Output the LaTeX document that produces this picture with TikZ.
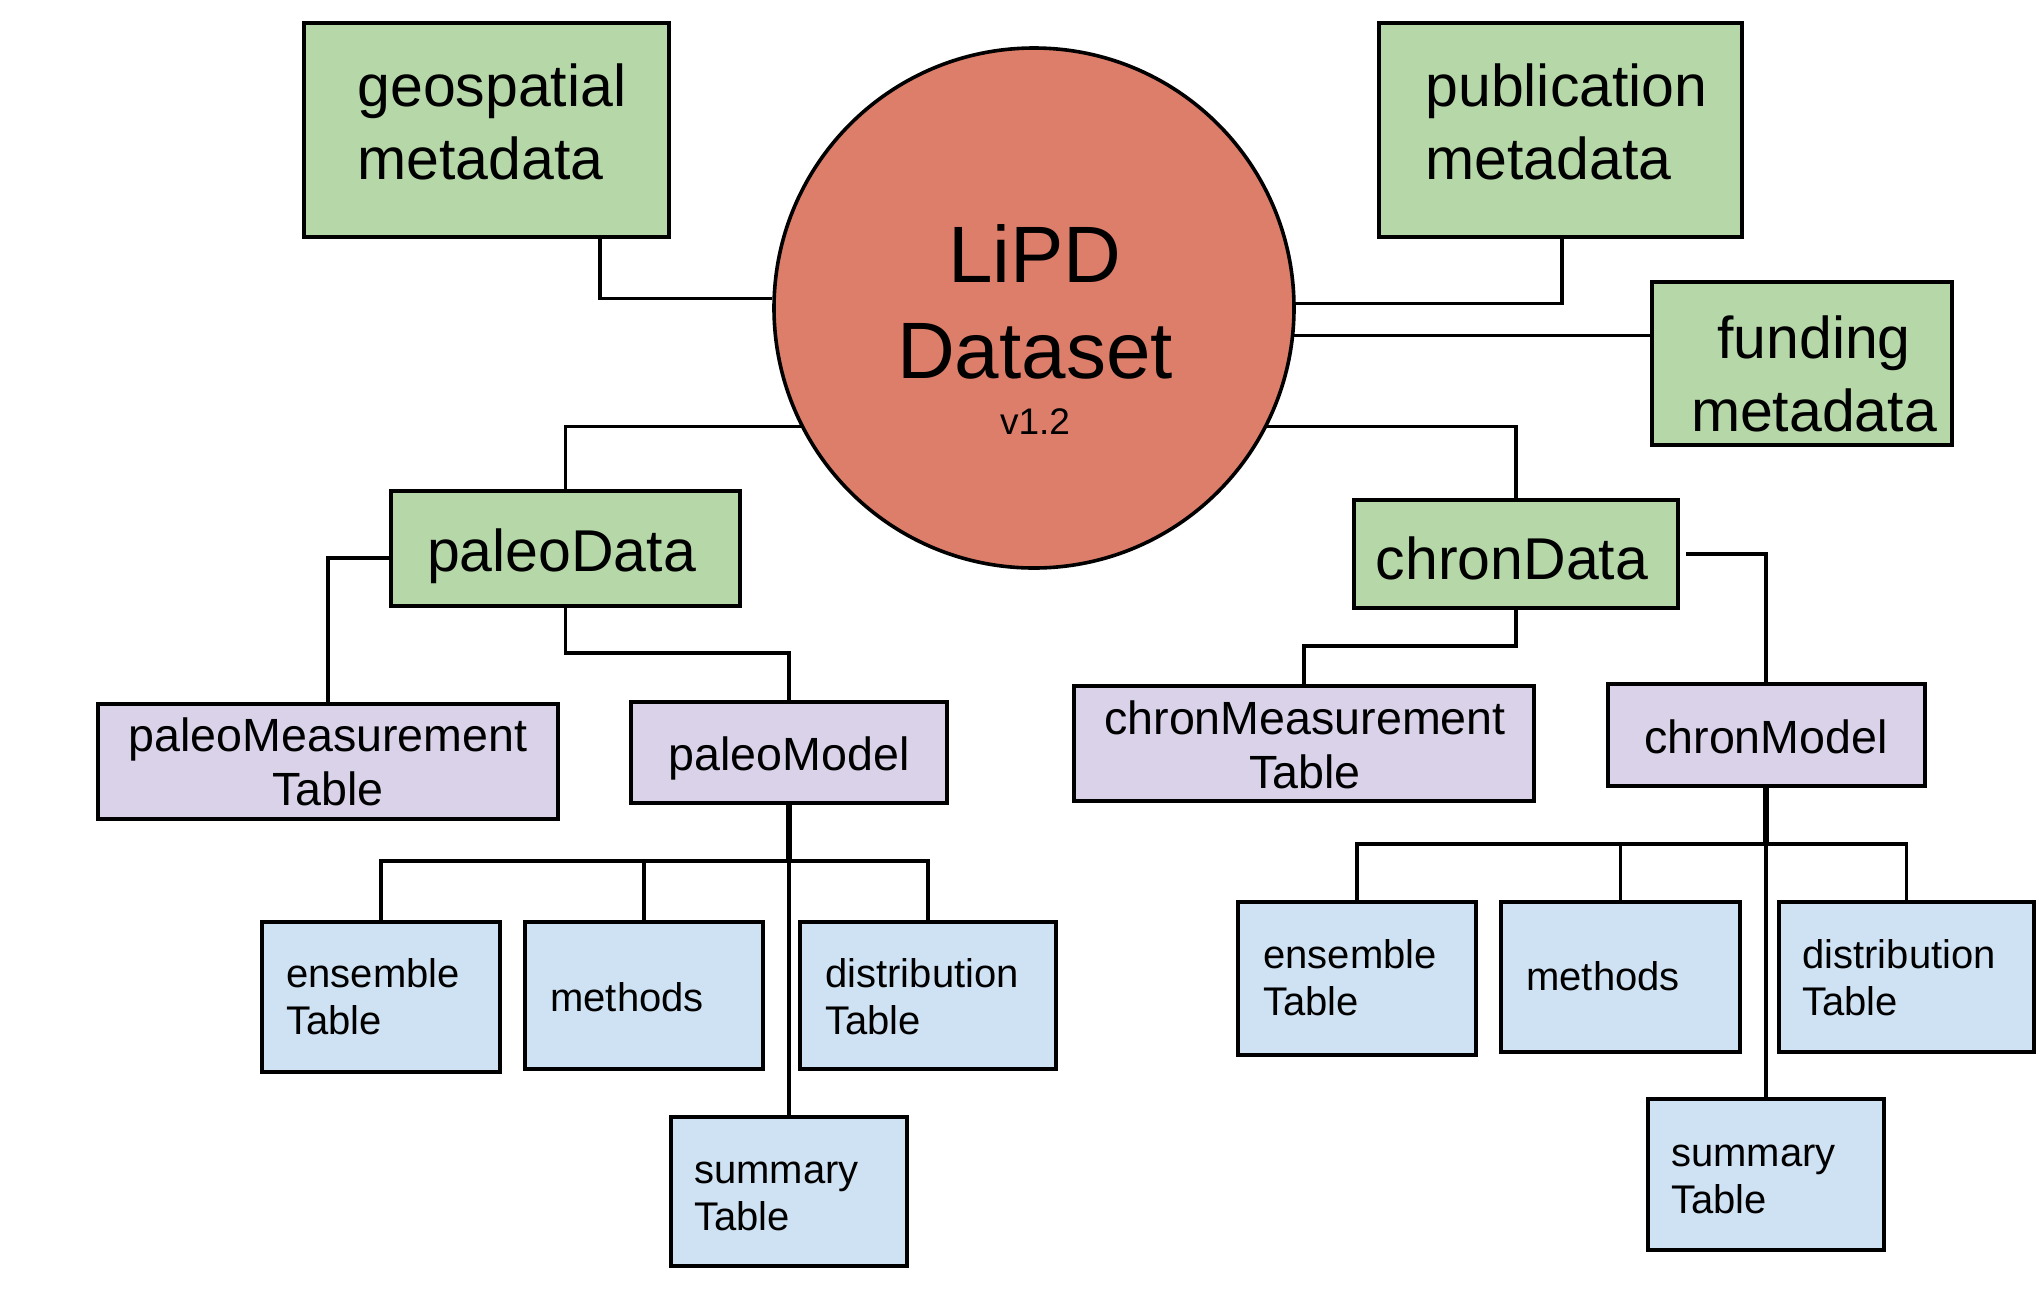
\documentclass[tikz,border=0pt]{standalone}
\usepackage{fontspec}
\setmainfont{Liberation Sans}
\definecolor{gfill}{HTML}{B6D7A8}
\definecolor{pfill}{HTML}{D9D2E9}
\definecolor{bfill}{HTML}{CFE2F3}
\definecolor{rfill}{HTML}{DD7E6B}
\begin{document}
\begin{tikzpicture}[x=0.5pt,y=-0.5pt,
  box/.style={draw=black, line width=2pt, rectangle, inner sep=0pt},
  greenbox/.style={box, fill=gfill},
  purplebox/.style={box, fill=pfill},
  bluebox/.style={box, fill=bfill},
  gtext/.style={font=\fontsize{29.5}{36.5}\selectfont, inner sep=0pt},
  ptext/.style={font=\fontsize{23.3}{27}\selectfont, inner sep=0pt},
  btext/.style={font=\fontsize{20}{23.5}\selectfont, inner sep=0pt},
  link/.style={draw=black, line width=1.6pt},
]
\useasboundingbox (0,0) rectangle (2044,1292);

% central dataset circle (multi-line labels are placed by the baseline of their last line)
\node[circle, draw=black, line width=1.8pt, fill=rfill, minimum size=260pt, inner sep=0pt] (lipd) at (1034,308) {};
\node[font=\fontsize{40}{48}\selectfont, align=center, anchor=base, inner sep=0pt] (lipd-t) at (1035,378) {LiPD\\Dataset};
\node[font=\fontsize{18.5}{22}\selectfont, anchor=base, inner sep=0pt] (lipd-v) at (1035,434) {v1.2};

% metadata boxes
\node[greenbox, minimum width=182.5pt, minimum height=107pt] (geo) at (486.5,130) {};
\node[gtext, align=left, anchor=base west] (geo-t) at (357,179) {geospatial\\metadata};
\node[greenbox, minimum width=181.5pt, minimum height=107pt] (pub) at (1560.5,130) {};
\node[gtext, align=left, anchor=base west] (pub-t) at (1425,179) {publication\\metadata};
\node[greenbox, minimum width=150pt, minimum height=81.5pt] (fund) at (1802,363.5) {};
\node[gtext, align=center, anchor=base] (fund-t) at (1814,431) {funding\\metadata};

% data groups
\node[greenbox, minimum width=174.5pt, minimum height=57.5pt] (pd) at (565.5,548.5) {};
\node[gtext, anchor=base] (pd-t) at (561.5,571) {paleoData};
\node[greenbox, minimum width=162pt, minimum height=54pt] (cd) at (1516,554) {};
\node[gtext, anchor=base] (cd-t) at (1512,579) {chronData};

% measurement and model tables
\node[purplebox, minimum width=230pt, minimum height=57.5pt] (pmeas) at (328,761.5) {};
\node[ptext, align=center, anchor=base] (pmeas-t) at (328,805) {paleoMeasurement\\Table};
\node[purplebox, minimum width=158pt, minimum height=50.5pt] (pmodel) at (789,752.5) {};
\node[ptext, anchor=base] (pmodel-t) at (789,770) {paleoModel};
\node[purplebox, minimum width=230pt, minimum height=57.5pt] (cmeas) at (1304,743.5) {};
\node[ptext, align=center, anchor=base] (cmeas-t) at (1305,788) {chronMeasurement\\Table};
\node[purplebox, minimum width=158.5pt, minimum height=51pt] (cmodel) at (1766,735) {};
\node[ptext, anchor=base] (cmodel-t) at (1766,753) {chronModel};

% paleo model parts
\node[bluebox, minimum width=119pt, minimum height=75pt] (pens) at (381,997) {};
\node[btext, align=left, anchor=base west] (pens-t) at (286,1034) {ensemble\\Table};
\node[bluebox, minimum width=119pt, minimum height=73.5pt] (pmeth) at (644,995.5) {};
\node[btext, anchor=base west] (pmeth-t) at (550,1011) {methods};
\node[bluebox, minimum width=128pt, minimum height=73.5pt] (pdist) at (928,995.5) {};
\node[btext, align=left, anchor=base west] (pdist-t) at (825,1034) {distribution\\Table};
\node[bluebox, minimum width=118pt, minimum height=74.5pt] (psum) at (789,1191.5) {};
\node[btext, align=left, anchor=base west] (psum-t) at (694,1230) {summary\\Table};

% chron model parts
\node[bluebox, minimum width=119pt, minimum height=76.5pt] (cens) at (1357,978.5) {};
\node[btext, align=left, anchor=base west] (cens-t) at (1263,1015) {ensemble\\Table};
\node[bluebox, minimum width=119.5pt, minimum height=75pt] (cmeth) at (1620.5,977) {};
\node[btext, anchor=base west] (cmeth-t) at (1526,990) {methods};
\node[bluebox, minimum width=127.5pt, minimum height=75pt] (cdist) at (1906.5,977) {};
\node[btext, align=left, anchor=base west] (cdist-t) at (1802,1015) {distribution\\Table};
\node[bluebox, minimum width=118pt, minimum height=75.5pt] (csum) at (1766,1174.5) {};
\node[btext, align=left, anchor=base west] (csum-t) at (1671,1213) {summary\\Table};

% bus junctions
\coordinate (pbus) at (789,861);
\coordinate (cbus) at (1766,844);

% connectors around the circle
\draw[link] (geo.south -| 600,0) |- (lipd.178.9);
\draw[link] (pub.south -| 1562,0) |- (lipd.1.8);
\draw[link] (lipd.-6.2) -- (lipd.-6.2 -| fund.west);
\draw[link] (lipd.207) -| (pd.north);
\draw[link] (lipd.-27) -| (cd.north);

% paleo branch
\draw[link] (pd.west |- 0,558) -| (pmeas.north);
\draw[link] (pd.south) -- (pd.south |- 0,653) -| (pmodel.north);
\draw[link] (pens.north) |- (pbus) -| (pdist.north);
\draw[link] (pmeth.north) -- (pmeth.north |- pbus);
\draw[link] (pmodel.south) -- (psum.north);
\draw[link, line width=2.6pt] (pmodel.south) -- (pbus);

% chron branch
\draw[link] (cd.south) -- (cd.south |- 0,646) -| (cmeas.north);
\draw[link] ([xshift=3pt]cd.east) -| (cmodel.north);
\draw[link] (cens.north) |- (cbus) -| (cdist.north);
\draw[link] (cmeth.north) -- (cmeth.north |- cbus);
\draw[link] (cmodel.south) -- (csum.north);
\draw[link, line width=2.6pt] (cmodel.south) -- (cbus);
\end{tikzpicture}
\end{document}
